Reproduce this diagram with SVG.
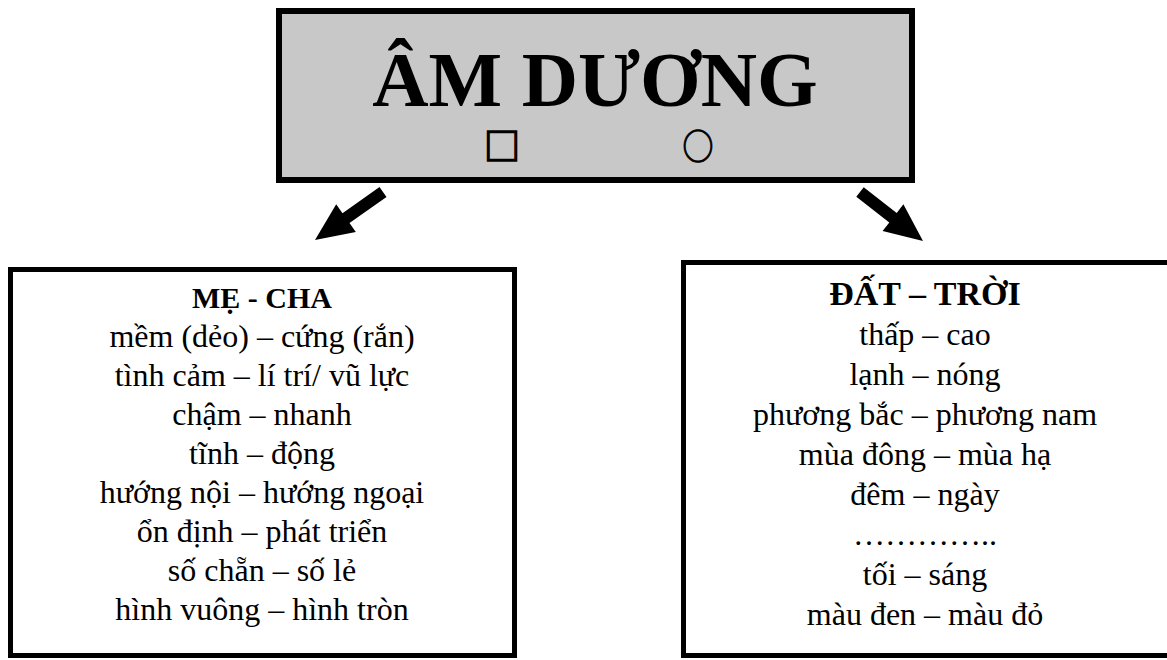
<svg xmlns="http://www.w3.org/2000/svg" width="1167" height="660" viewBox="0 0 1167 660">
  <style>
    .box { fill: #ffffff; stroke: #000000; stroke-width: 5; }
    .head { fill: #c8c8c8; stroke: #000000; stroke-width: 6; }
    .t { font-family: "Liberation Serif", "Times New Roman", serif; fill: #000000; text-anchor: middle; }
    .title { font-size: 78px; font-weight: bold; }
    .sub { font-size: 30px; font-weight: bold; }
    .subr { font-size: 34px; font-weight: bold; }
    .line { font-size: 32px; }
    .sym { font-family: "Noto Sans CJK SC", "DejaVu Sans", sans-serif; font-size: 36px; fill: #000000; stroke: #000000; text-anchor: middle; }
    .arrow { fill: #000000; }
  </style>

  <!-- central heading box -->
  <g id="am-duong">
    <rect class="head" x="279" y="11" width="633" height="169"/>
    <text class="t title" x="595" y="106">ÂM DƯƠNG</text>
    <text class="sym" x="502" y="160" stroke-width="1.6">□</text>
    <text class="sym" transform="translate(698 160) scale(0.86 1)" stroke-width="1">○</text>
  </g>

  <!-- connectors -->
  <g id="connectors">
    <polygon class="arrow" points="379.5,187.1 386.5,196.9 349.5,223 355.8,232 315,240 336.2,204.2 342.5,213.2"/>
    <polygon class="arrow" points="863.7,187.3 856.3,196.7 889.3,222.4 882.6,231.1 923,241 903.4,204.3 896.7,213"/>
  </g>

  <!-- left box: mother / father -->
  <g id="me-cha">
    <rect class="box" x="10.5" y="269.5" width="504" height="386"/>
    <text class="t sub" x="262" y="308">MẸ - CHA</text>
    <text class="t line" x="262" y="347">mềm (dẻo) – cứng (rắn)</text>
    <text class="t line" x="262" y="386">tình cảm – lí trí/ vũ lực</text>
    <text class="t line" x="262" y="425">chậm – nhanh</text>
    <text class="t line" x="262" y="464">tĩnh – động</text>
    <text class="t line" x="262" y="503">hướng nội – hướng ngoại</text>
    <text class="t line" x="262" y="542">ổn định – phát triển</text>
    <text class="t line" x="262" y="581">số chẵn – số lẻ</text>
    <text class="t line" x="262" y="620">hình vuông – hình tròn</text>
  </g>

  <!-- right box: earth / heaven -->
  <g id="dat-troi">
    <rect class="box" x="683.5" y="262.5" width="492" height="393"/>
    <text class="t subr" x="925" y="305">ĐẤT – TRỜI</text>
    <text class="t line" x="925" y="345">thấp – cao</text>
    <text class="t line" x="925" y="385">lạnh – nóng</text>
    <text class="t line" x="925" y="425">phương bắc – phương nam</text>
    <text class="t line" x="925" y="465">mùa đông – mùa hạ</text>
    <text class="t line" x="925" y="505">đêm – ngày</text>
    <text class="t line" x="925" y="545">…………..</text>
    <text class="t line" x="925" y="585">tối – sáng</text>
    <text class="t line" x="925" y="625">màu đen – màu đỏ</text>
  </g>
</svg>
